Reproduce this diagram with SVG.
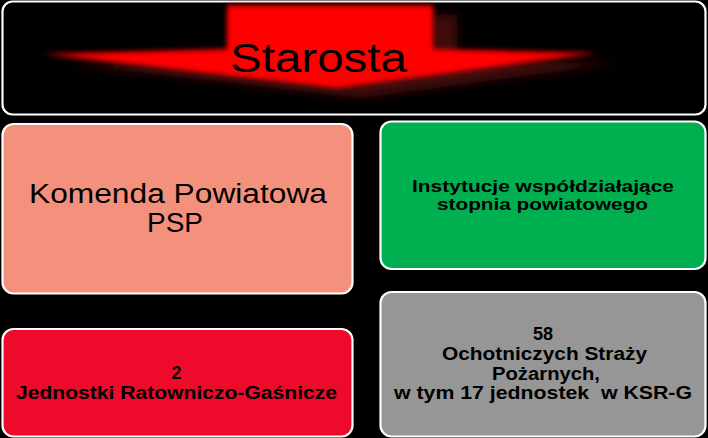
<svg xmlns="http://www.w3.org/2000/svg" width="708" height="438" viewBox="0 0 708 438">
<style>
.box{stroke:#ffffff;stroke-width:2.2}
.t{font-family:"Liberation Sans",Arial,sans-serif;fill:#000;text-anchor:middle}
.b{font-weight:bold;font-size:18px}
.g{font-weight:bold;font-size:16.5px}
</style>
<defs>
<filter id="blur" x="-10%" y="-30%" width="120%" height="160%"><feGaussianBlur stdDeviation="2.6"/></filter>
<filter id="blur2" x="-10%" y="-30%" width="120%" height="160%"><feGaussianBlur stdDeviation="5"/></filter>
<path id="arrow" d="M227,5 L433,5 L433,49 L597,53 L337,88 L43,54 L227,49 Z"/>
</defs>
<rect width="708" height="438" fill="#000"/>
<g id="starosta">
<rect class="box" x="2.5" y="1.5" width="703" height="113" rx="10" fill="#000"/>
<use href="#arrow" fill="#4a1010" opacity="0.9" transform="translate(24,10)" filter="url(#blur2)"/>
<use href="#arrow" fill="#ff0000" filter="url(#blur)"/>
<text class="t" x="318.5" y="72" font-size="41" textLength="177" lengthAdjust="spacingAndGlyphs">Starosta</text>
</g>
<g id="komenda">
<rect class="box" x="2.5" y="124" width="350" height="169.5" rx="11" fill="#f4917c"/>
<text class="t" x="178" y="203" font-size="27" textLength="298" lengthAdjust="spacingAndGlyphs">Komenda Powiatowa</text>
<text class="t" x="175" y="232" font-size="27" textLength="56" lengthAdjust="spacingAndGlyphs">PSP</text>
</g>
<g id="instytucje">
<rect class="box" x="380.5" y="121.5" width="325" height="147.5" rx="11" fill="#00b050"/>
<text class="t g" x="543" y="192" textLength="262" lengthAdjust="spacingAndGlyphs">Instytucje współdziałające</text>
<text class="t g" x="542.5" y="210" textLength="211" lengthAdjust="spacingAndGlyphs">stopnia powiatowego</text>
</g>
<g id="jrg">
<rect class="box" x="2.5" y="329" width="350" height="107.5" rx="11" fill="#ee0a2b"/>
<text class="t b" x="176.5" y="379">2</text>
<text class="t b" x="176.5" y="399" textLength="321" lengthAdjust="spacingAndGlyphs">Jednostki Ratowniczo-Gaśnicze</text>
</g>
<g id="osp">
<rect class="box" x="380.5" y="292" width="325" height="144.5" rx="11" fill="#969696"/>
<text class="t b" x="543" y="340">58</text>
<text class="t b" x="544.5" y="360" textLength="205" lengthAdjust="spacingAndGlyphs">Ochotniczych Straży</text>
<text class="t b" x="546" y="380" textLength="108" lengthAdjust="spacingAndGlyphs">Pożarnych,</text>
<text class="t b" x="543" y="399" xml:space="preserve" textLength="298" lengthAdjust="spacingAndGlyphs">w tym 17 jednostek  w KSR-G</text>
</g>
<g id="connectors"/>
</svg>
